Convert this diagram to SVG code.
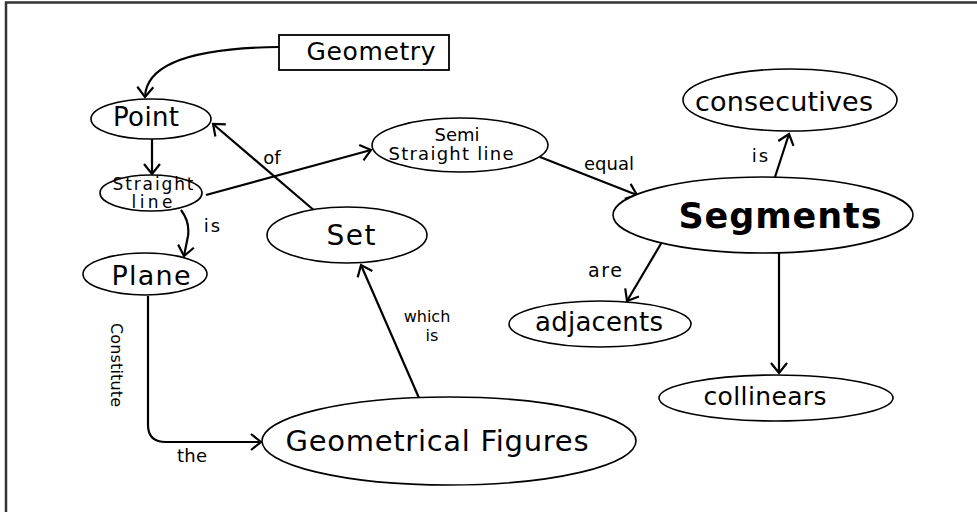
<svg xmlns="http://www.w3.org/2000/svg" width="977" height="512" viewBox="0 0 977 512">
<style>
text{font-family:"DejaVu Sans","Liberation Sans",sans-serif;fill:#000;text-anchor:middle}
.n{fill:#fff;stroke:#000;stroke-width:1.6}
.c{fill:none;stroke:#000;stroke-width:2.2;marker-end:url(#ah)}
</style>
<defs>
<marker id="ah" markerUnits="userSpaceOnUse" viewBox="-13 -10 15 20" markerWidth="15" markerHeight="20" refX="0" refY="0" orient="auto">
<path d="M-10,-8 L0,0 L-10,8" fill="none" stroke="#000" stroke-width="2.2"/>
</marker>
</defs>
<rect width="977" height="512" fill="#fff"/>
<g id="frame"><path d="M6,512 L6,2.5 L977,2.5" fill="none" stroke="#333" stroke-width="2.5"/></g>
<g id="connectors">
<path class="c" d="M279,47 C190,48 146,65 145,97"/>
<path class="c" d="M152,139 L152,174"/>
<path class="c" d="M206,195 L371,150"/>
<path class="c" d="M181,210 Q190,222 188,236 L184,256"/>
<path class="c" d="M316,212 L213,124"/>
<path class="c" d="M419,398 L361,265"/>
<path class="c" d="M148,296 L148,425 Q148,442 166,442 L261,442"/>
<path class="c" d="M540,157 L637,195"/>
<path class="c" d="M775,177 L789,134"/>
<path class="c" d="M662,242 L627,301"/>
<path class="c" d="M779,253 L779,373"/>
<text x="272" y="164" font-size="18">of</text>
<text x="213" y="232" font-size="18" letter-spacing="2">is</text>
<text x="427" y="322" font-size="16">which</text>
<text x="432" y="341" font-size="16">is</text>
<text x="609" y="170" font-size="18" textLength="50">equal</text>
<text x="761" y="162" font-size="18" letter-spacing="2">is</text>
<text x="605" y="277" font-size="19" textLength="34">are</text>
<text x="192" y="462" font-size="18" textLength="30">the</text>
<text transform="translate(111,365) rotate(90)" font-size="16" textLength="84">Constitute</text>
</g>
<g id="geometry"><rect x="279" y="35" width="170" height="35" fill="#fff" stroke="#000" stroke-width="1.8"/><text x="371" y="60" font-size="25" textLength="129">Geometry</text></g>
<g id="point"><ellipse class="n" cx="151" cy="119" rx="60" ry="20"/><text x="146" y="126" font-size="26" textLength="66">Point</text></g>
<g id="straight"><ellipse class="n" cx="151" cy="193" rx="51" ry="18"/><text x="153" y="190" font-size="17" textLength="81">Straight</text><text x="152" y="208" font-size="17" textLength="41">line</text></g>
<g id="plane"><ellipse class="n" cx="145" cy="274" rx="62" ry="21"/><text x="151" y="285" font-size="27" textLength="79">Plane</text></g>
<g id="set"><ellipse class="n" cx="347" cy="235" rx="80" ry="28"/><text x="351" y="245" font-size="28" textLength="49">Set</text></g>
<g id="semi"><ellipse class="n" cx="460" cy="145" rx="88" ry="27"/><text x="457" y="141" font-size="18">Semi</text><text x="451" y="160" font-size="18" textLength="125">Straight line</text></g>
<g id="segments"><ellipse class="n" cx="763" cy="215" rx="150" ry="38"/><text x="780" y="228" font-size="35" font-weight="bold" textLength="203">Segments</text></g>
<g id="consecutives"><ellipse class="n" cx="790" cy="100" rx="107" ry="31"/><text x="784" y="111" font-size="27" textLength="178">consecutives</text></g>
<g id="adjacents"><ellipse class="n" cx="600" cy="324" rx="91" ry="23"/><text x="599" y="331" font-size="26" textLength="128">adjacents</text></g>
<g id="collinears"><ellipse class="n" cx="776" cy="398" rx="117" ry="23"/><text x="765" y="405" font-size="25" textLength="123">collinears</text></g>
<g id="figures"><ellipse class="n" cx="449" cy="441" rx="187" ry="44"/><text x="437" y="451" font-size="29" textLength="303">Geometrical Figures</text></g>
</svg>
